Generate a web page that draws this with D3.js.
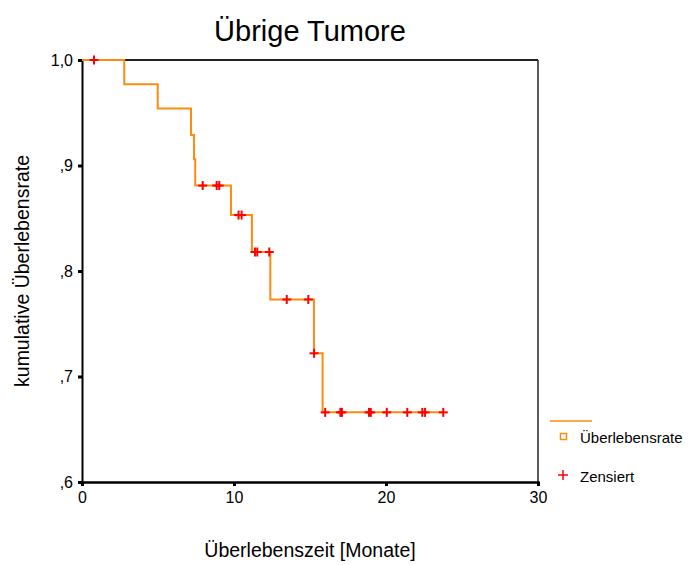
<!DOCTYPE html>
<html><head><meta charset="utf-8">
<script src="https://cdn.jsdelivr.net/npm/d3@7"></script>
<style>body{margin:0;background:#fff}svg{display:block}text{font-family:"Liberation Sans",Arial,sans-serif}</style>
</head><body><svg id="c" width="691" height="565"></svg>
<script>
// Kaplan-Meier step curve
const stepTimes = [0, 2.78, 4.98, 7.17, 7.37, 7.45, 9.8, 11.18, 12.39, 15.26, 15.83, 23.8];
const stepSurv  = [1.0, 0.977, 0.954, 0.929, 0.906, 0.881, 0.853, 0.818, 0.773, 0.722, 0.666, 0.666];
// censored observations (months)
const censorTimes = [0.79, 7.94, 8.86, 9.03, 10.3, 10.5, 11.38, 11.53, 12.32, 13.47, 14.89, 15.27, 16.0, 17.0, 17.1, 18.88, 19.0, 20.05, 21.4, 22.39, 22.57, 23.77];
const xTicks = [0, 10, 20, 30];
const yTicks = [0.6, 0.7, 0.8, 0.9, 1.0];
const yTickLabels = [",6", ",7", ",8", ",9", "1,0"];
const title = "Übrige Tumore";
const xLabel = "Überlebenszeit [Monate]";
const yLabel = "kumulative Überlebensrate";
const legendLabels = ["Überlebensrate", "Zensiert"];

const svg = d3.select("#c");
const L = 82, R = 538, T = 60, B = 482;
const x = d3.scaleLinear().domain([0, 30]).range([L, R]);
const y = d3.scaleLinear().domain([0.6, 1.0]).range([B, T]);

function survAt(t){ let s = stepSurv[0]; for (let i=0;i<stepTimes.length;i++){ if (stepTimes[i] <= t) s = stepSurv[i]; } return s; }

// frame
svg.append("line").attr("x1",L).attr("x2",R).attr("y1",T).attr("y2",T).attr("stroke","#222").attr("stroke-width",2);
svg.append("line").attr("x1",R).attr("x2",R).attr("y1",T).attr("y2",B).attr("stroke","#222").attr("stroke-width",1.5);

// axes
const xAxis = d3.axisBottom(x).tickValues(xTicks).tickSize(4).tickPadding(6).tickFormat(d3.format("d"));
const gx = svg.append("g").attr("transform",`translate(0,${B})`).call(xAxis);
gx.select(".domain").attr("stroke","#000").attr("stroke-width",2.5);
gx.selectAll(".tick line").attr("stroke","#000").attr("stroke-width",3);
gx.selectAll(".tick text").attr("font-size",16).attr("fill","#000").attr("font-family","Liberation Sans, Arial, sans-serif");

const yAxis = d3.axisLeft(y).tickValues(yTicks).tickSize(4).tickPadding(5).tickFormat((d,i)=>yTickLabels[i]);
const gy = svg.append("g").attr("transform",`translate(${L},0)`).call(yAxis);
gy.select(".domain").attr("stroke","#000").attr("stroke-width",2);
gy.selectAll(".tick line").attr("stroke","#000").attr("stroke-width",3);
gy.selectAll(".tick text").attr("font-size",16).attr("fill","#000").attr("font-family","Liberation Sans, Arial, sans-serif");

// step line
const pts = stepTimes.map((t,i)=>[t, stepSurv[i]]);
const line = d3.line().x(d=>x(d[0])).y(d=>y(d[1])).curve(d3.curveStepAfter);
svg.append("path").attr("d", line(pts)).attr("fill","none").attr("stroke","#ff8a10").attr("stroke-width",2);

// censor crosses
const cs = 4.5;
const g = svg.append("g").attr("stroke","#ff0000").attr("stroke-width",2);
censorTimes.forEach(t=>{
  const cx = x(t), cy = y(survAt(t));
  g.append("line").attr("x1",cx-cs).attr("x2",cx+cs).attr("y1",cy).attr("y2",cy);
  g.append("line").attr("x1",cx).attr("x2",cx).attr("y1",cy-cs).attr("y2",cy+cs);
});

// titles
svg.append("text").attr("x",(L+R)/2).attr("y",41).attr("text-anchor","middle").attr("font-size",29).text(title);
svg.append("text").attr("x",(L+R)/2).attr("y",557).attr("text-anchor","middle").attr("font-size",19.5).text(xLabel);
svg.append("text").attr("transform",`translate(29,${(T+B)/2}) rotate(-90)`).attr("text-anchor","middle").attr("font-size",19.5).text(yLabel);

// legend
svg.append("line").attr("x1",550).attr("x2",592).attr("y1",421).attr("y2",421).attr("stroke","#ff8a10").attr("stroke-width",1.5);
svg.append("rect").attr("x",560.5).attr("y",433.5).attr("width",6).attr("height",6).attr("fill","none").attr("stroke","#ff8a10").attr("stroke-width",1.5);
svg.append("text").attr("x",580).attr("y",443).attr("font-size",15).text(legendLabels[0]);
const lg = svg.append("g").attr("stroke","#ff0000").attr("stroke-width",1.5);
lg.append("line").attr("x1",558).attr("x2",568).attr("y1",475).attr("y2",475);
lg.append("line").attr("x1",563).attr("x2",563).attr("y1",470).attr("y2",480);
svg.append("text").attr("x",580).attr("y",482).attr("font-size",15).text(legendLabels[1]);
</script></body></html>
